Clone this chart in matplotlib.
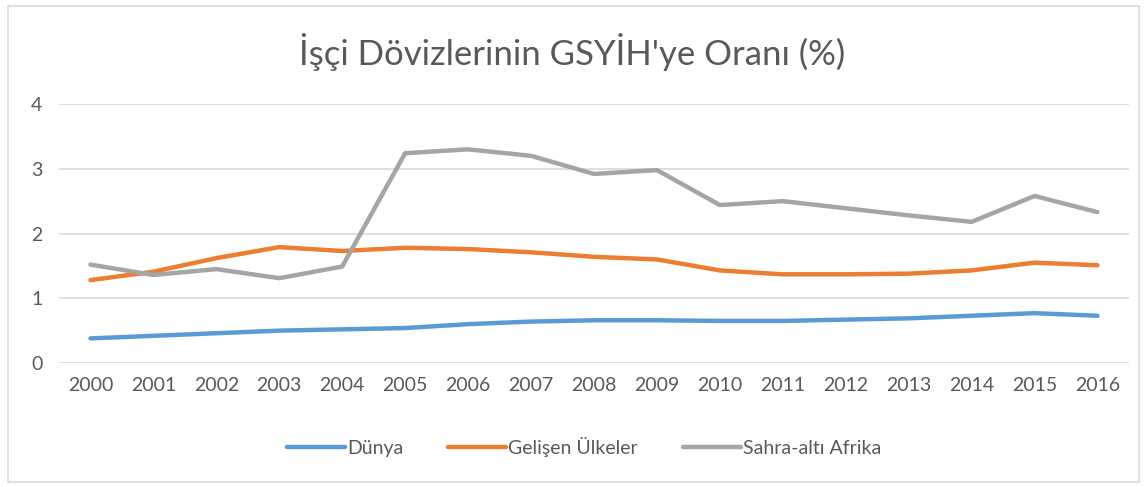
import matplotlib.pyplot as plt
from matplotlib.patches import Rectangle

plt.rcParams['font.family'] = ['Lato', 'DejaVu Sans']

years = [str(y) for y in range(2000, 2017)]
dunya = [0.38, 0.42, 0.46, 0.50, 0.52, 0.54, 0.60, 0.64, 0.66, 0.66, 0.65,
         0.65, 0.67, 0.69, 0.73, 0.77, 0.73]
gelisen = [1.28, 1.41, 1.62, 1.79, 1.73, 1.78, 1.76, 1.71, 1.64, 1.60, 1.43,
           1.37, 1.37, 1.38, 1.43, 1.55, 1.51]
sahra = [1.52, 1.36, 1.45, 1.31, 1.49, 3.24, 3.30, 3.20, 2.92, 2.98, 2.44,
         2.50, 2.39, 2.28, 2.18, 2.58, 2.33]

series = [("Dünya", dunya, "#5B9BD5"),
          ("Gelişen Ülkeler", gelisen, "#ED7D31"),
          ("Sahra-altı Afrika", sahra, "#A5A5A5")]

text_color = "#595959"

fig = plt.figure(figsize=(11.45, 4.87), dpi=100)
ax = fig.add_axes([0.0515, 0.2546, 0.9345, 0.5318])

x = list(range(len(years)))
for name, vals, col in series:
    ax.plot(x, vals, color=col, lw=3.2, solid_capstyle='round',
            solid_joinstyle='round', label=name)

ax.set_xlim(-0.5, len(years) - 0.5)
ax.set_ylim(0, 4)
ax.set_yticks([0, 1, 2, 3, 4])
ax.set_xticks(x)
ax.set_xticklabels(years)
ax.grid(axis='y', color='#D9D9D9', lw=1.2)
ax.set_axisbelow(True)
for s in ax.spines.values():
    s.set_visible(False)
ax.tick_params(length=0, labelsize=14, colors=text_color, pad=10)
ax.tick_params(axis='y', pad=12)

fig.text(0.5, 0.893, "İşçi Dövizlerinin GSYİH'ye Oranı (%)", ha='center',
         va='center', fontsize=25, color=text_color, fontweight='normal')

leg = fig.legend(loc='center', bbox_to_anchor=(0.510, 0.082), ncol=3,
                 frameon=False, fontsize=14, handlelength=3.0,
                 handletextpad=0.1, columnspacing=2.3)
for t in leg.get_texts():
    t.set_color(text_color)

fig.patches.append(Rectangle((0.007, 0.01), 0.988, 0.978,
                             transform=fig.transFigure, fill=False,
                             edgecolor='#D9D9D9', lw=1.2))

fig.savefig('out.png', dpi=100)
